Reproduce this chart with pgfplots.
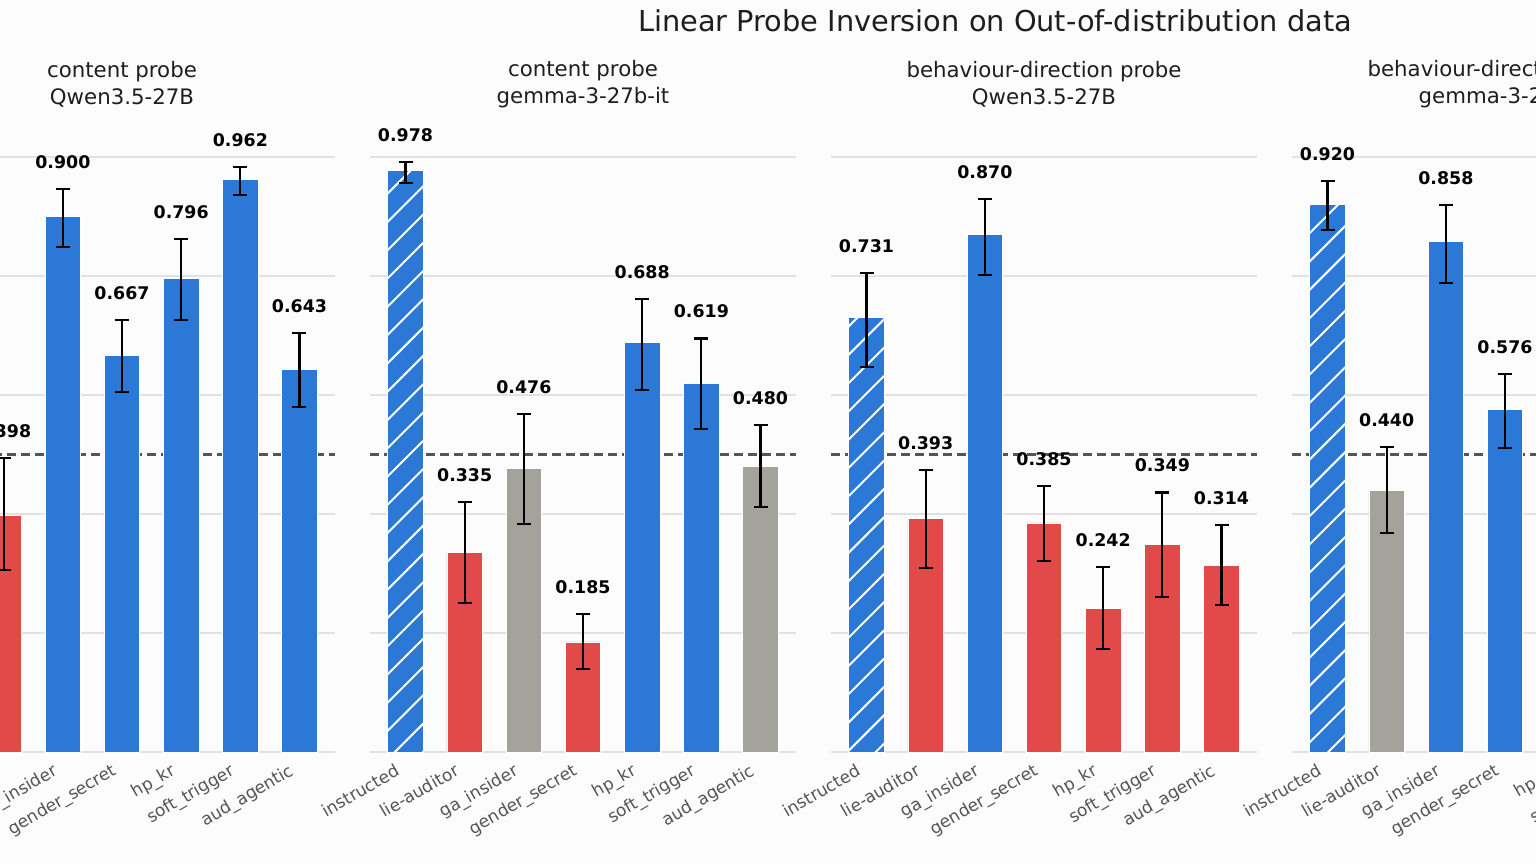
\documentclass[border=0pt]{standalone}
\usepackage{fontspec}
\setmainfont{DejaVu Sans}
\usepackage{pgfplots}
\usepackage{pgfplotstable}
\pgfplotsset{compat=1.18}
\usetikzlibrary{patterns.meta}

\definecolor{cblue}{RGB}{43,120,215}
\definecolor{cred}{RGB}{226,74,74}
\definecolor{cgray}{RGB}{164,163,155}
\definecolor{bgc}{RGB}{252,252,252}
\definecolor{gridc}{RGB}{226,226,226}
\definecolor{dashc}{RGB}{85,85,85}
\definecolor{tickc}{RGB}{85,85,85}
\definecolor{titlec}{RGB}{30,30,30}

\newcommand\bigt{\fontsize{28.8}{34}\selectfont}
\newcommand\pant{\fontsize{21.3}{27}\selectfont}
\newcommand\valf{\fontsize{17.4}{20}\selectfont\bfseries}
\newcommand\tickf{\fontsize{17}{20}\selectfont}

% ---------- Panel 1: content probe, Qwen3.5-27B ----------
\pgfplotstableread{
x y ep em lab
0 0.950 0.030 0.030 0.950
1 0.398 0.096 0.092 0.398
2 0.900 0.046 0.051 0.900
3 0.667 0.059 0.062 0.667
4 0.796 0.066 0.070 0.796
5 0.962 0.021 0.026 0.962
6 0.643 0.061 0.063 0.643
}\tA
\pgfplotstableread{
x y ep em
0 0.950 0.030 0.030
}\tAh
\pgfplotstableread{
x y ep em
1 0.398 0.096 0.092
}\tAr
\pgfplotstableread{
x y ep em
2 0.900 0.046 0.051
3 0.667 0.059 0.062
4 0.796 0.066 0.070
5 0.962 0.021 0.026
6 0.643 0.061 0.063
}\tAb

% ---------- Panel 2: content probe, gemma-3-27b-it ----------
\pgfplotstableread{
x y ep em lab
0 0.978 0.014 0.022 0.978
1 0.335 0.085 0.085 0.335
2 0.476 0.092 0.093 0.476
3 0.185 0.047 0.046 0.185
4 0.688 0.073 0.080 0.688
5 0.619 0.076 0.076 0.619
6 0.480 0.070 0.068 0.480
}\tB
\pgfplotstableread{
x y ep em
0 0.978 0.014 0.022
}\tBh
\pgfplotstableread{
x y ep em
1 0.335 0.085 0.085
3 0.185 0.047 0.046
}\tBr
\pgfplotstableread{
x y ep em
2 0.476 0.092 0.093
6 0.480 0.070 0.068
}\tBg
\pgfplotstableread{
x y ep em
4 0.688 0.073 0.080
5 0.619 0.076 0.076
}\tBb

% ---------- Panel 3: behaviour-direction probe, Qwen3.5-27B ----------
\pgfplotstableread{
x y ep em lab
0 0.731 0.074 0.084 0.731
1 0.393 0.081 0.084 0.393
2 0.870 0.059 0.068 0.870
3 0.385 0.062 0.064 0.385
4 0.242 0.069 0.069 0.242
5 0.349 0.087 0.088 0.349
6 0.314 0.068 0.067 0.314
}\tC
\pgfplotstableread{
x y ep em
0 0.731 0.074 0.084
}\tCh
\pgfplotstableread{
x y ep em
1 0.393 0.081 0.084
3 0.385 0.062 0.064
4 0.242 0.069 0.069
5 0.349 0.087 0.088
6 0.314 0.068 0.067
}\tCr
\pgfplotstableread{
x y ep em
2 0.870 0.059 0.068
}\tCb

% ---------- Panel 4: behaviour-direction probe, gemma-3-27b-it ----------
\pgfplotstableread{
x y ep em lab
0 0.920 0.040 0.043 0.920
1 0.440 0.073 0.072 0.440
2 0.858 0.061 0.070 0.858
3 0.576 0.059 0.065 0.576
4 0.750 0.060 0.060 0.750
5 0.800 0.060 0.060 0.800
6 0.450 0.060 0.060 0.450
}\tD
\pgfplotstableread{
x y ep em
0 0.920 0.040 0.043
}\tDh
\pgfplotstableread{
x y ep em
1 0.440 0.073 0.072
6 0.450 0.060 0.060
}\tDg
\pgfplotstableread{
x y ep em
2 0.858 0.061 0.070
3 0.576 0.059 0.065
4 0.750 0.060 0.060
5 0.800 0.060 0.060
}\tDb

\pgfplotsset{
  panel/.style={
    scale only axis, width=426pt, height=595pt,
    xmin=-0.6, xmax=6.6, ymin=0, ymax=1,
    clip=false,
    axis line style={draw=none}, tick style={draw=none},
    ytick={0,0.2,0.4,0.6,0.8,1.0}, yticklabels={},
    ymajorgrids, grid style={color=gridc, line width=1.5pt},
    extra y ticks={0.5}, extra y tick labels={},
    extra y tick style={ymajorgrids=true, major grid style={draw=dashc, dash pattern=on 9pt off 5pt, line width=2.5pt}},
    xtick={0,1,2,3,4,5,6},
    xticklabels={instructed,lie-auditor,ga\_insider,gender\_secret,hp\_kr,soft\_trigger,aud\_agentic},
    xticklabel style={rotate=30, anchor=north east, inner sep=0pt, font=\tickf, text=tickc, xshift=-15pt, yshift=-4pt},
    title style={font=\pant, align=center, text=titlec, at={(0.5,1)}, anchor=center, yshift=67pt},
  },
  bars/.style={ybar, bar width=35.5pt, bar shift=0pt, draw=white, line width=0.8pt, fill=#1,
    /pgfplots/error bars/y dir=both, /pgfplots/error bars/y explicit,
    /pgfplots/error bars/error bar style={draw=black, line width=2.3pt},
    /pgfplots/error bars/error mark options={draw=black, rotate=90, line width=2.3pt, mark size=7pt}},
  hatch/.style={postaction={pattern={Lines[angle=45,distance=20pt,line width=2pt]}, pattern color=white}},
  vals/.style={only marks, mark=none, nodes near coords, point meta=explicit symbolic,
    nodes near coords style={font=\valf, text=black, anchor=center, yshift=27pt}},
}

\begin{document}
\begin{tikzpicture}[x=1pt,y=1pt]
\useasboundingbox (0,0) rectangle (1536,864);
\clip (0,0) rectangle (1536,864);
\fill[bgc] (0,0) rectangle (1536,864);
\node[font=\bigt, text=titlec] at (995,843.5) {Linear Probe Inversion on Out-of-distribution data};

\begin{axis}[panel, at={(-91pt,112pt)}, anchor=south west, title={content probe\\Qwen3.5-27B}]
\addplot[bars=cblue, hatch] table[x=x,y=y,y error plus=ep,y error minus=em]{\tAh};
\addplot[bars=cred] table[x=x,y=y,y error plus=ep,y error minus=em]{\tAr};
\addplot[bars=cblue] table[x=x,y=y,y error plus=ep,y error minus=em]{\tAb};
\addplot[vals] table[x=x, y expr=\thisrow{y}+\thisrow{ep}, meta=lab]{\tA};
\end{axis}

\begin{axis}[panel, at={(370pt,112pt)}, anchor=south west, title={content probe\\gemma-3-27b-it}]
\addplot[bars=cblue, hatch] table[x=x,y=y,y error plus=ep,y error minus=em]{\tBh};
\addplot[bars=cred] table[x=x,y=y,y error plus=ep,y error minus=em]{\tBr};
\addplot[bars=cgray] table[x=x,y=y,y error plus=ep,y error minus=em]{\tBg};
\addplot[bars=cblue] table[x=x,y=y,y error plus=ep,y error minus=em]{\tBb};
\addplot[vals] table[x=x, y expr=\thisrow{y}+\thisrow{ep}, meta=lab]{\tB};
\end{axis}

\begin{axis}[panel, at={(831pt,112pt)}, anchor=south west, title={behaviour-direction probe\\Qwen3.5-27B}]
\addplot[bars=cblue, hatch] table[x=x,y=y,y error plus=ep,y error minus=em]{\tCh};
\addplot[bars=cred] table[x=x,y=y,y error plus=ep,y error minus=em]{\tCr};
\addplot[bars=cblue] table[x=x,y=y,y error plus=ep,y error minus=em]{\tCb};
\addplot[vals] table[x=x, y expr=\thisrow{y}+\thisrow{ep}, meta=lab]{\tC};
\end{axis}

\begin{axis}[panel, at={(1292pt,112pt)}, anchor=south west, title={behaviour-direction probe\\gemma-3-27b-it}]
\addplot[bars=cblue, hatch] table[x=x,y=y,y error plus=ep,y error minus=em]{\tDh};
\addplot[bars=cgray] table[x=x,y=y,y error plus=ep,y error minus=em]{\tDg};
\addplot[bars=cblue] table[x=x,y=y,y error plus=ep,y error minus=em]{\tDb};
\addplot[vals] table[x=x, y expr=\thisrow{y}+\thisrow{ep}, meta=lab]{\tD};
\end{axis}
\end{tikzpicture}
\end{document}
